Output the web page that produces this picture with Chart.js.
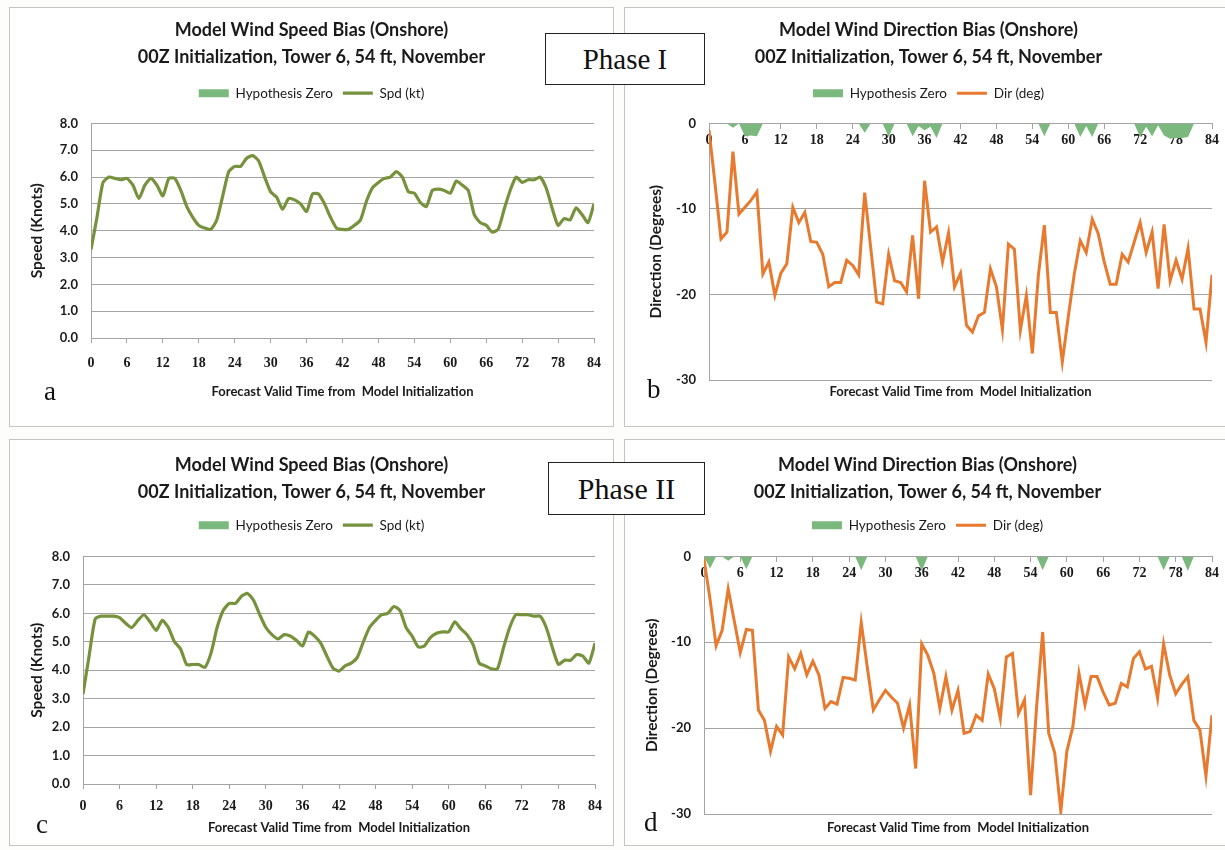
<!DOCTYPE html>
<html>
<head>
  <title>Model Wind Speed and Direction Bias</title>
  <script src="https://cdn.jsdelivr.net/npm/chart.js@4.4.1/dist/chart.umd.min.js"></script>
  <style>
    body { margin: 0; background: #fdfdfc; }
    #page { position: relative; width: 1225px; height: 850px; overflow: hidden; }
    canvas { position: absolute; outline: 1px solid #c4c4c4; background: #ffffff; }
    .phase {
      position: absolute; background: #fff; border: 1px solid #222;
      font-family: 'Liberation Serif', serif; color: #111;
      text-align: center; box-sizing: border-box;
    }
    .letter {
      position: absolute; font-family: 'Liberation Serif', serif;
      font-size: 27px; color: #111; line-height: 1;
    }
  </style>
</head>
<body>
<div id="page">
  <canvas id="spdOne" width="603" height="418" style="left:10px;top:8px"></canvas>
  <canvas id="dirOne" width="600" height="418" style="left:625px;top:8px"></canvas>
  <canvas id="spdTwo" width="603" height="405" style="left:10px;top:440px"></canvas>
  <canvas id="dirTwo" width="600" height="405" style="left:625px;top:440px"></canvas>

  <div class="phase" style="left:545px;top:33px;width:160px;height:52px;font-size:29px;line-height:50px">Phase I</div>
  <div class="phase" style="left:548px;top:462px;width:157px;height:53px;font-size:30px;line-height:51px">Phase II</div>

  <div class="letter" style="left:44px;top:378px">a</div>
  <div class="letter" style="left:647px;top:376px">b</div>
  <div class="letter" style="left:36px;top:811px">c</div>
  <div class="letter" style="left:644px;top:809px">d</div>
</div>

<script>
// forecast hour 0..84
var hours = [];
for (var h = 0; h <= 84; h++) hours.push(h);

var xTicksEvery = 6;
var xTitle = 'Forecast Valid Time from  Model Initialization';
var titleSpeed = ['Model Wind Speed Bias (Onshore)', '00Z Initialization, Tower 6, 54 ft, November'];
var titleDir = ['Model Wind Direction Bias (Onshore)', '00Z Initialization, Tower 6, 54 ft, November'];

// Phase I speed bias (kt)
var spdPhase1 = [3.3, 4.5, 5.8, 6.0, 5.95, 5.9, 5.95, 5.7, 5.2, 5.7,
  5.95, 5.7, 5.3, 5.95, 5.95, 5.5, 4.9, 4.5, 4.2, 4.1,
  4.05, 4.4, 5.3, 6.2, 6.4, 6.4, 6.7, 6.8, 6.6, 6.0,
  5.45, 5.25, 4.8, 5.2, 5.15, 5.0, 4.72, 5.37, 5.37, 5.0,
  4.5, 4.1, 4.05, 4.05, 4.2, 4.4, 5.1, 5.6, 5.8, 5.95,
  6.0, 6.2, 6.0, 5.45, 5.4, 5.05, 4.9, 5.5, 5.55, 5.5,
  5.4, 5.85, 5.7, 5.5, 4.6, 4.3, 4.2, 3.95, 4.05, 4.8,
  5.5, 6.0, 5.8, 5.9, 5.9, 6.0, 5.6, 4.85, 4.2, 4.45,
  4.4, 4.85, 4.6, 4.3, 5.0];

// Phase II speed bias (kt)
var spdPhase2 = [3.16, 4.5, 5.8, 5.9, 5.9, 5.9, 5.85, 5.65, 5.5, 5.75,
  5.95, 5.7, 5.4, 5.75, 5.5, 5.0, 4.75, 4.2, 4.2, 4.2,
  4.1, 4.6, 5.5, 6.1, 6.35, 6.35, 6.6, 6.7, 6.45, 5.95,
  5.5, 5.25, 5.1, 5.25, 5.2, 5.05, 4.85, 5.34, 5.2, 4.95,
  4.5, 4.08, 3.97, 4.15, 4.25, 4.45, 5.0, 5.5, 5.75, 5.95,
  6.0, 6.24, 6.1, 5.5, 5.2, 4.82, 4.85, 5.15, 5.3, 5.35,
  5.35, 5.7, 5.45, 5.25, 4.9, 4.25, 4.15, 4.05, 4.05, 4.8,
  5.5, 5.95, 5.95, 5.95, 5.9, 5.9, 5.5, 4.8, 4.2, 4.35,
  4.35, 4.55, 4.5, 4.25, 4.95];

// Phase I direction bias (deg)
var dirPhase1 = [-0.8, -7, -13.5, -12.7, -3.3, -10.6, -9.8, -9.0, -8.0, -17.6,
  -16.2, -20.1, -17.5, -16.4, -9.8, -11.6, -10.4, -13.8, -13.9, -15.3,
  -19.1, -18.6, -18.6, -16.0, -16.6, -17.7, -8.1, -14.5, -20.9, -21.1,
  -15.3, -18.4, -18.6, -19.7, -13.1, -20.5, -6.7, -12.7, -12.1, -16.2,
  -12.8, -19.1, -17.5, -23.6, -24.4, -22.5, -22.1, -17.0, -19.1, -24.1,
  -14.1, -14.7, -24.2, -20.1, -26.9, -17.8, -11.9, -22.1, -22.1, -27.9,
  -22.6, -17.6, -13.7, -15.1, -11.2, -12.9, -16.2, -18.8, -18.8, -15.3,
  -16.2, -13.9, -11.6, -15.1, -12.7, -19.3, -11.8, -18.4, -16.0, -18.2,
  -14.6, -21.7, -21.7, -25.6, -17.7];

// Phase II direction bias (deg)
var dirPhase2 = [-0.3, -5, -10.4, -8.6, -3.8, -7.5, -11.2, -8.5, -8.6, -17.9,
  -19.1, -22.7, -19.8, -20.8, -11.7, -13.1, -11.3, -13.8, -12.2, -13.8,
  -17.7, -16.9, -17.2, -14.1, -14.2, -14.4, -7.7, -12.9, -17.9, -16.7,
  -15.6, -16.4, -17.1, -20.0, -17.3, -24.7, -10.2, -11.5, -13.6, -17.7,
  -14.0, -17.9, -15.6, -20.6, -20.4, -18.5, -19.1, -13.7, -15.4, -18.9,
  -11.7, -11.3, -18.3, -16.7, -27.8, -17.5, -8.8, -20.6, -22.9, -29.7,
  -22.7, -19.8, -13.6, -17.3, -14.0, -14.0, -15.8, -17.3, -17.1, -14.8,
  -15.2, -11.9, -11.1, -13.1, -12.8, -16.5, -10.2, -13.8, -16.0, -14.9,
  -14.0, -19.1, -20.2, -25.6, -18.5];

// Hypothesis Zero markers on the direction charts
var hypPhase1 = [0, 0, 0, 0, -0.5, 0, -1.5, -1.4, -1.5, 0,
  0, 0, 0, 0, 0, 0, 0, 0, 0, 0,
  0, 0, 0, 0, 0, 0, -1.1, 0, 0, 0,
  -1.6, 0, 0, 0, -1.5, -0.3, -0.8, -0.4, -1.7, 0,
  0, 0, 0, 0, 0, 0, 0, 0, 0, 0,
  0, 0, 0, 0, 0, 0, -1.5, 0, 0, 0,
  0, 0, -1.6, -0.3, -1.6, 0, 0, 0, 0, 0,
  0, 0, -1.6, -0.4, -1.5, -0.2, -1.4, -1.8, -1.7, -1.7,
  -1.6, 0, 0, 0, 0];

var hypPhase2 = [0, -1.4, 0, 0, -0.5, 0, 0, -1.5, 0, 0,
  0, 0, 0, 0, 0, 0, 0, 0, 0, 0,
  0, 0, 0, 0, 0, 0, -1.6, 0, 0, 0,
  0, 0, 0, 0, 0, 0, -1.7, 0, 0, 0,
  0, 0, 0, 0, 0, 0, 0, 0, 0, 0,
  0, 0, 0, 0, 0, 0, -1.6, 0, 0, 0,
  0, 0, 0, 0, 0, 0, 0, 0, 0, 0,
  0, 0, 0, 0, 0, 0, -1.6, 0, 0, 0,
  -1.7, 0, 0, 0, 0];

var spdColor = '#76923c';
var dirColor = '#e87a2f';
var hypColor = '#7bb87d';
var gridColor = '#a4a4a4';
var sansFam = "Lato, 'Liberation Sans', sans-serif";
var serifFam = "'Liberation Serif', serif";

Chart.defaults.font.family = sansFam;
Chart.defaults.color = '#1a1a1a';

function makeChart(id, o) {
  var ctx = document.getElementById(id).getContext('2d');

  var scales = {
    x: {
      type: 'linear',
      min: 0,
      max: 84,
      position: o.dir ? { y: 0 } : 'bottom',
      ticks: { stepSize: xTicksEvery, padding: o.xTickPad, color: '#1a1a1a',
               font: { family: serifFam, size: 14, weight: 'bold' } },
      grid: { drawOnChartArea: false, tickLength: 5, color: gridColor },
      border: { color: gridColor },
      title: {
        display: !o.dir,
        text: xTitle,
        font: { size: 13, weight: 'bold' },
        padding: 0
      },
      afterFit: function(scale) { if (!o.dir) scale.height = o.xHeight; }
    },
    y: {
      min: o.yMin,
      max: o.yMax,
      ticks: {
        stepSize: o.yStep,
        padding: 13,
        font: { size: 13, weight: 'bold' },
        callback: function(v) { return o.dir ? v : v.toFixed(1); }
      },
      grid: { color: gridColor, drawTicks: false },
      border: { color: gridColor },
      title: { display: true, text: o.yTitle, font: { size: 15.5, weight: 'bold' },
               padding: { top: o.yTitlePad, bottom: 0 } },
      afterFit: function(scale) { scale.width = o.yWidth; }
    }
  };
  if (o.dir) {
    scales.x2 = {
      type: 'linear',
      position: 'bottom',
      min: 0,
      max: 84,
      ticks: { display: false },
      grid: { display: false },
      border: { display: false },
      title: { display: true, text: xTitle, font: { size: 13, weight: 'bold' }, padding: 0 },
      afterFit: function(scale) { scale.height = o.xHeight; }
    };
  }

  return new Chart(ctx, {
    type: 'line',
    data: {
      labels: hours,
      datasets: [{
        label: 'Hypothesis Zero',
        data: o.hyp,
        backgroundColor: hypColor,
        borderColor: hypColor,
        borderWidth: 0,
        pointRadius: 0,
        pointStyle: 'rect',
        pointBackgroundColor: hypColor,
        pointBorderWidth: 0,
        fill: 'origin',
        tension: 0,
        order: 2
      }, {
        label: o.lineLabel,
        data: o.values,
        borderColor: o.color,
        backgroundColor: o.color,
        borderWidth: o.lineWidth,
        pointRadius: 0,
        pointStyle: 'line',
        pointBorderColor: o.color,
        pointBorderWidth: o.lineWidth,
        tension: o.tension,
        fill: false,
        order: 1
      }]
    },
    options: {
      responsive: false,
      animation: false,
      layout: { padding: o.pad },
      scales: scales,
      plugins: {
        title: {
          display: true,
          text: o.title,
          color: '#1a1a1a',
          font: { size: 18, weight: 'bold', lineHeight: 1.47 },
          padding: { top: o.titleTop, bottom: o.titleBottom }
        },
        legend: {
          labels: {
            usePointStyle: true,
            pointStyleWidth: 30,
            boxHeight: 8,
            padding: 10,
            color: '#1a1a1a',
            font: { size: 13.5 },
            sort: function(a, b) { return a.datasetIndex - b.datasetIndex; }
          }
        },
        tooltip: { enabled: false }
      }
    },
    plugins: [{
      // extra room between legend and plot, like the Excel layout
      beforeInit: function(chart) {
        var fitLegend = chart.legend.fit;
        chart.legend.fit = function() {
          fitLegend.bind(chart.legend)();
          this.height += o.legendGap;
        };
      }
    }]
  });
}

makeChart('spdOne', {
  dir: false, title: titleSpeed, lineLabel: 'Spd (kt)', values: spdPhase1, hyp: [],
  color: spdColor, lineWidth: 3.2, tension: 0.2,
  yMin: 0, yMax: 8, yStep: 1, yTitle: 'Speed (Knots)',
  pad: { left: 18, right: 18, top: 0, bottom: 26 }, yWidth: 63, yTitlePad: 0,
  xHeight: 62, xTickPad: 12, titleTop: 9, titleBottom: 6.5, legendGap: 13.5
});

makeChart('dirOne', {
  dir: true, title: titleDir, lineLabel: 'Dir (deg)', values: dirPhase1, hyp: hypPhase1,
  color: dirColor, lineWidth: 3, tension: 0,
  yMin: -30, yMax: 0, yStep: 10, yTitle: 'Direction (Degrees)',
  pad: { left: 20, right: 13, top: 0, bottom: 26 }, yWidth: 64, yTitlePad: 2,
  xHeight: 20, xTickPad: 4, titleTop: 9, titleBottom: 6.5, legendGap: 13.5
});

makeChart('spdTwo', {
  dir: false, title: titleSpeed, lineLabel: 'Spd (kt)', values: spdPhase2, hyp: [],
  color: spdColor, lineWidth: 3.2, tension: 0.2,
  yMin: 0, yMax: 8, yStep: 1, yTitle: 'Speed (Knots)',
  pad: { left: 18, right: 18, top: 0, bottom: 9.5 }, yWidth: 55, yTitlePad: 0,
  xHeight: 51.5, xTickPad: 9, titleTop: 12, titleBottom: 3.5, legendGap: 14.5
});

makeChart('dirTwo', {
  dir: true, title: titleDir, lineLabel: 'Dir (deg)', values: dirPhase2, hyp: hypPhase2,
  color: dirColor, lineWidth: 3, tension: 0,
  yMin: -30, yMax: 0, yStep: 10, yTitle: 'Direction (Degrees)',
  pad: { left: 18, right: 13, top: 0, bottom: 9.5 }, yWidth: 61, yTitlePad: 0,
  xHeight: 21.5, xTickPad: 4, titleTop: 12, titleBottom: 3.5, legendGap: 14.5
});
</script>
</body>
</html>
